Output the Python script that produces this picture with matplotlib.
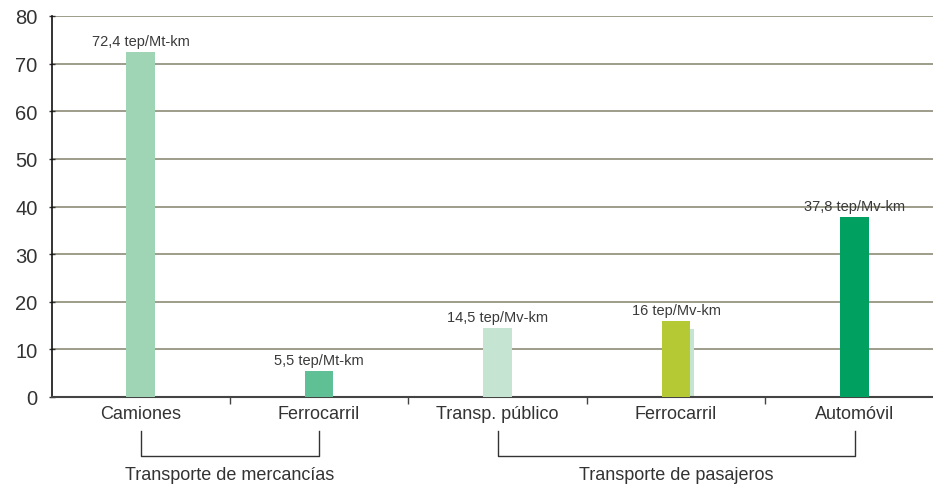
import matplotlib.pyplot as plt
import numpy as np

categories = ['Camiones', 'Ferrocarril', 'Transp. público', 'Ferrocarril', 'Automóvil']
values = [72.4, 5.5, 14.5, 16.0, 37.8]
value_labels = ['72,4 tep/Mt-km', '5,5 tep/Mt-km', '14,5 tep/Mv-km', '16 tep/Mv-km', '37,8 tep/Mv-km']
colors = ['#9fd5b5', '#5fbf95', '#c5e5d2', '#b5c935', '#00a060']
groups = [('Transporte de mercancías', 0, 1), ('Transporte de pasajeros', 2, 4)]
# faint duplicate bar peeking out behind the second Ferrocarril bar
ghost_value = 14.3

plt.rcParams['font.family'] = ['Liberation Sans', 'DejaVu Sans']

fig = plt.figure(figsize=(9.33, 4.85), dpi=100)
ax = fig.add_axes([52 / 933, 1 - 398 / 485, 1 - 52 / 933, 381 / 485])

x = np.arange(len(categories))
w = 0.162
ax.bar(x[3] + 0.017, ghost_value, width=w, color='#c5e5d2', zorder=2)
ax.bar(x, values, width=w, color=colors, zorder=3)

for xi, v, lab in zip(x, values, value_labels):
    ax.annotate(lab, (xi, v), xytext=(0, 3), textcoords='offset points',
                ha='center', va='bottom', fontsize=10.5, color='#3a3a3a')

ax.set_ylim(0, 80)
ax.set_xlim(-0.496, -0.496 + 881 / 178.5)
ax.set_yticks(range(0, 81, 10))
ax.tick_params(axis='y', labelsize=14.5, colors='#333333', length=5, width=1,
               direction='inout', pad=8)
ax.yaxis.grid(True, color='#9e9d8a', linewidth=1.4, zorder=0)
ax.set_axisbelow(True)

ax.set_xticks(x)
ax.set_xticklabels(categories, fontsize=13, color='#333333')
ax.tick_params(axis='x', length=0, pad=6)
ax.set_xticks(np.arange(0.5, len(categories) - 0.5, 1), minor=True)
ax.tick_params(axis='x', which='minor', length=5, width=1, direction='out', color='#444444')

for side in ['top', 'right']:
    ax.spines[side].set_visible(False)
ax.spines['left'].set_color('#111111')
ax.spines['left'].set_linewidth(1.2)
ax.spines['bottom'].set_color('#444444')
ax.spines['bottom'].set_linewidth(1.5)

# group brackets under the category labels
trans = ax.get_xaxis_transform()
y_top, y_bot, y_txt = -34 / 381, -59 / 381, -69 / 381
for name, i0, i1 in groups:
    ax.plot([x[i0], x[i0], x[i1], x[i1]], [y_top, y_bot, y_bot, y_top],
            transform=trans, color='#333333', linewidth=1, clip_on=False)
    ax.text((x[i0] + x[i1]) / 2, y_txt, name, transform=trans, ha='center', va='top',
            fontsize=13, color='#333333')

fig.savefig('out.png', dpi=100)
